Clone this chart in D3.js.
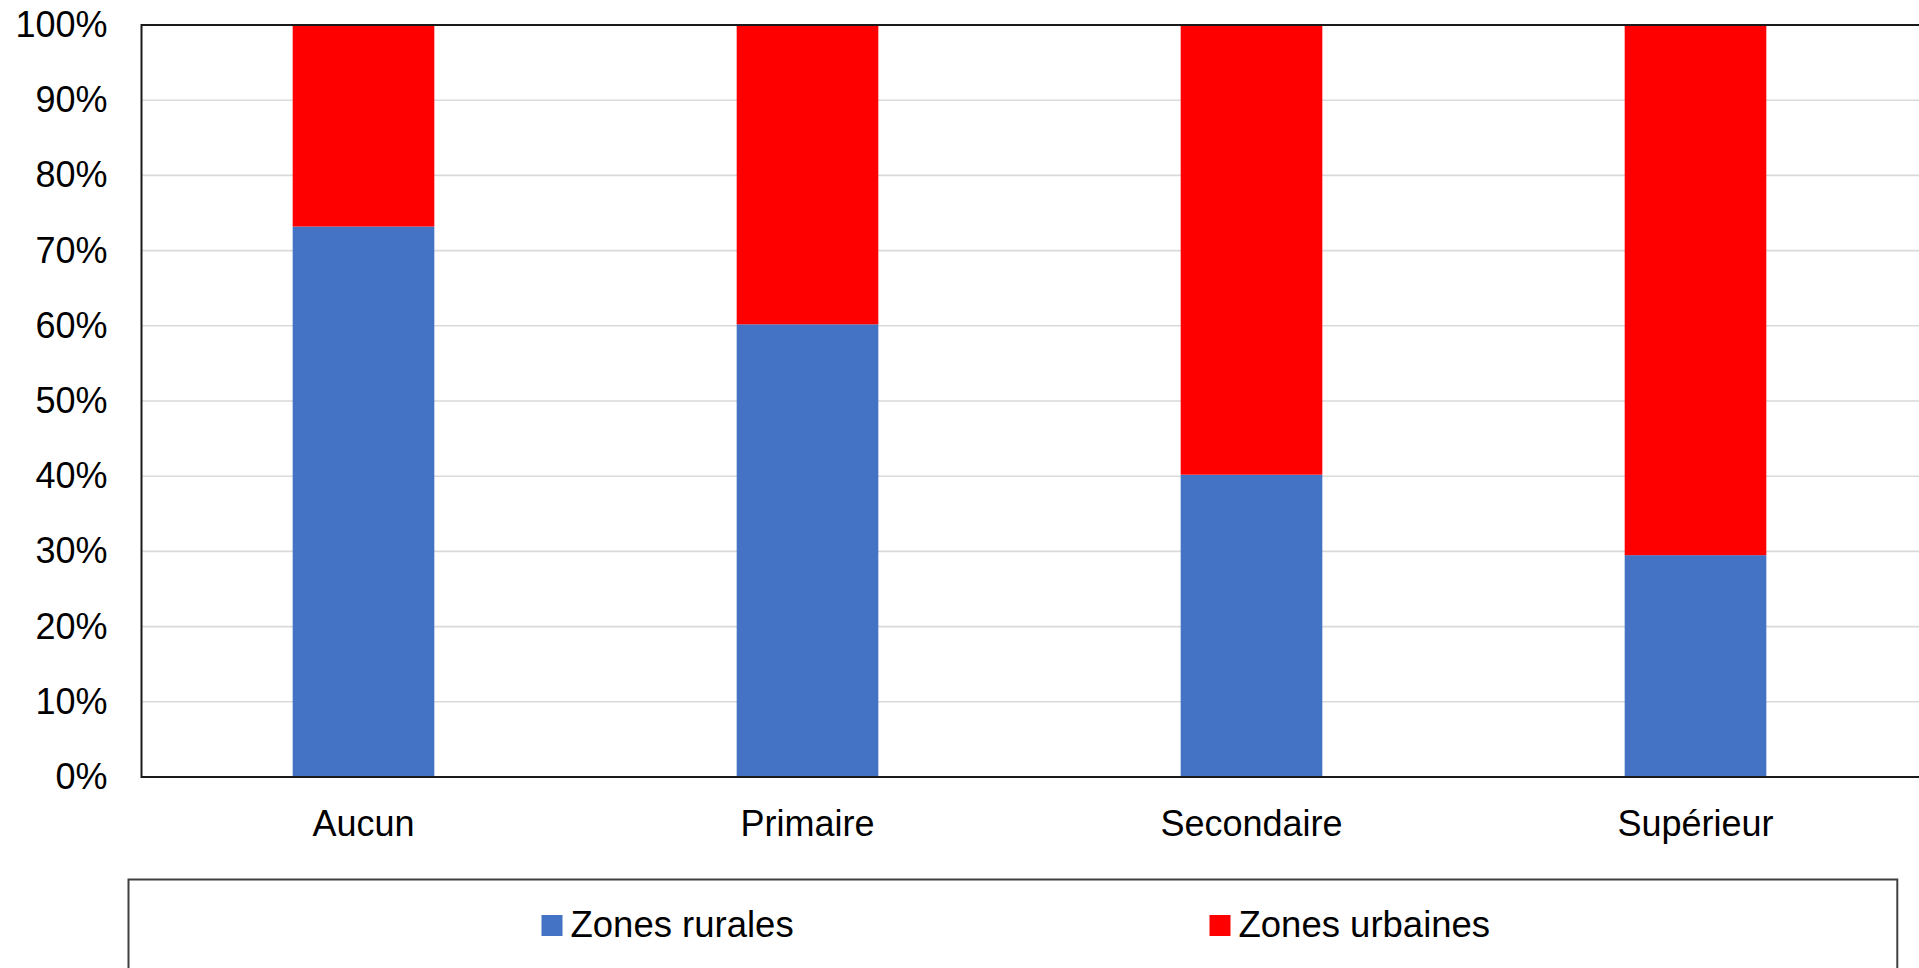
<!DOCTYPE html>
<html>
<head>
<meta charset="utf-8">
<script src="https://cdn.jsdelivr.net/npm/d3@7"></script>
<style>
  html, body { margin: 0; padding: 0; background: #fff; }
  svg { display: block; }
  text { font-family: "Liberation Sans", Arial, sans-serif; fill: #000; }
</style>
</head>
<body>
<svg id="chart" width="1919" height="968"></svg>
<script>
const categories = ["Aucun", "Primaire", "Secondaire", "Supérieur"];
const seriesNames = ["Zones rurales", "Zones urbaines"];
const rural = [73.2, 60.2, 40.2, 29.5];
const urbain = [26.8, 39.8, 59.8, 70.5];
const colors = ["#4472C4", "#FF0000"];
const yTicks = [0, 10, 20, 30, 40, 50, 60, 70, 80, 90, 100];

const svg = d3.select("#chart");
const plot = { left: 141.5, top: 25, right: 1917.5, bottom: 777 };

const x = d3.scaleBand().domain(categories)
  .range([plot.left, plot.right]).paddingInner(0.681).paddingOuter(0.3405);
const y = d3.scaleLinear().domain([0, 100]).range([plot.bottom, plot.top]);

// gridlines
svg.append("g").selectAll("line").data(yTicks.filter(d => d > 0 && d < 100)).join("line")
  .attr("x1", plot.left).attr("x2", 1919)
  .attr("y1", d => y(d)).attr("y2", d => y(d))
  .attr("stroke", "#d9d9d9").attr("stroke-width", 1.6);

// stacked bars
const rows = categories.map((c, i) => ({ cat: c, r: rural[i], u: urbain[i] }));
const stack = d3.stack().keys(["r", "u"])(rows);
svg.append("g").selectAll("g").data(stack).join("g")
  .attr("fill", (d, i) => colors[i])
  .selectAll("rect").data(d => d).join("rect")
  .attr("x", d => x(d.data.cat))
  .attr("width", x.bandwidth())
  .attr("y", d => y(d[1]))
  .attr("height", d => y(d[0]) - y(d[1]));

// plot border
svg.append("rect")
  .attr("x", plot.left).attr("y", plot.top)
  .attr("width", 1925 - plot.left).attr("height", plot.bottom - plot.top)
  .attr("fill", "none").attr("stroke", "#1a1a1a").attr("stroke-width", 2);

// y axis labels
const yAxis = d3.axisLeft(y).tickValues(yTicks).tickFormat(d => d + "%").tickSize(0).tickPadding(34);
const ya = svg.append("g").attr("transform", `translate(${plot.left},0)`).call(yAxis);
ya.select(".domain").remove();
ya.selectAll("text").attr("font-size", 36).attr("font-family", "Liberation Sans, Arial, sans-serif").attr("fill", "#000");

// x axis labels
const xAxis = d3.axisBottom(x).tickSize(0).tickPadding(0);
const xa = svg.append("g").attr("transform", `translate(0,${plot.bottom})`).call(xAxis);
xa.select(".domain").remove();
xa.selectAll("text").attr("font-size", 36).attr("font-family", "Liberation Sans, Arial, sans-serif")
  .attr("fill", "#000").attr("dy", null).attr("y", 59);

// legend
svg.append("rect").attr("x", 128.5).attr("y", 879.5).attr("width", 1768.8).attr("height", 200)
  .attr("fill", "none").attr("stroke", "#404040").attr("stroke-width", 2);
const legendX = [541.5, 1209.5];
const lg = svg.append("g").selectAll("g").data(seriesNames).join("g")
  .attr("transform", (d, i) => `translate(${legendX[i]},915)`);
lg.append("rect").attr("width", 21).attr("height", 21).attr("fill", (d, i) => colors[i]);
lg.append("text").attr("x", 29).attr("y", 21.5).attr("font-size", 36.5).text(d => d);
</script>
</body>
</html>
